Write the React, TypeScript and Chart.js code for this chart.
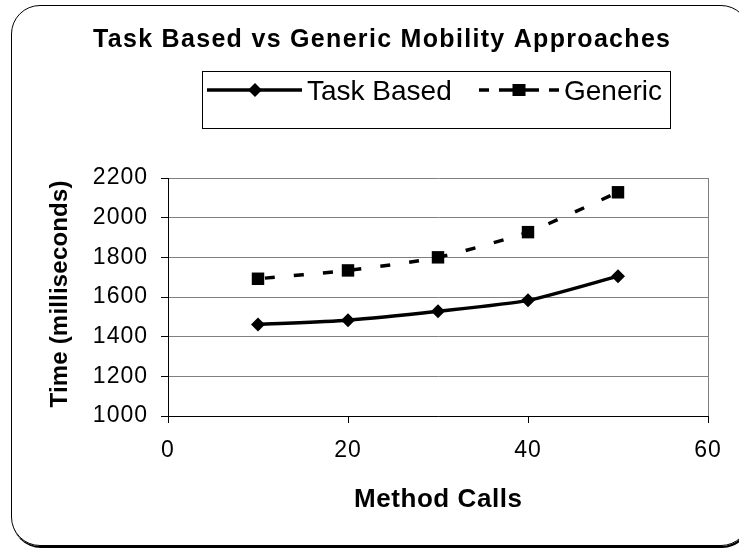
import React, { useEffect, useRef } from "react";
import { Chart, registerables } from "chart.js";

Chart.register(...registerables);

const chartTitle = "Task Based vs Generic Mobility Approaches";
const xTitle = "Method Calls";
const yTitle = "Time (milliseconds)";
const seriesNames = ["Task Based", "Generic"];
const methodCalls = [10, 20, 30, 40, 50];
const taskBased = [1461, 1483, 1528, 1583, 1705];
const generic = [1692, 1734, 1800, 1927, 2128];
const xTicks = [0, 20, 40, 60];
const yTicks = [1000, 1200, 1400, 1600, 1800, 2000, 2200];

const FONT = "'Liberation Sans', Arial, sans-serif";

function drawFitted(
  ctx: CanvasRenderingContext2D,
  text: string,
  cx: number,
  baseline: number,
  font: string,
  target: number
) {
  ctx.save();
  ctx.font = font;
  (ctx as any).letterSpacing = "0px";
  const w = ctx.measureText(text).width;
  const sp = text.length > 1 ? (target - w) / (text.length - 1) : 0;
  (ctx as any).letterSpacing = sp + "px";
  ctx.textAlign = "left";
  ctx.textBaseline = "alphabetic";
  ctx.fillStyle = "#000";
  ctx.fillText(text, cx - target / 2, baseline);
  ctx.restore();
}

function drawLeft(
  ctx: CanvasRenderingContext2D,
  text: string,
  x: number,
  baseline: number,
  font: string
) {
  ctx.save();
  ctx.font = font;
  (ctx as any).letterSpacing = "0px";
  ctx.textAlign = "left";
  ctx.textBaseline = "alphabetic";
  ctx.fillStyle = "#000";
  ctx.fillText(text, x, baseline);
  ctx.restore();
}

function drawDiamond(ctx: CanvasRenderingContext2D, x: number, y: number, r: number) {
  ctx.beginPath();
  ctx.moveTo(x - r, y);
  ctx.lineTo(x, y - r);
  ctx.lineTo(x + r, y);
  ctx.lineTo(x, y + r);
  ctx.closePath();
  ctx.fill();
}

function seg(ctx: CanvasRenderingContext2D, x1: number, x2: number, y: number) {
  ctx.beginPath();
  ctx.moveTo(x1, y);
  ctx.lineTo(x2, y);
  ctx.stroke();
}

const tickSpacingPlugin = {
  id: "tickSpacing",
  beforeDraw(chart: any) {
    (chart.ctx as any).letterSpacing = "1px";
  },
  afterDraw(chart: any) {
    (chart.ctx as any).letterSpacing = "0px";
  },
};

const decorPlugin = {
  id: "decor",
  afterDraw(chart: any) {
    const ctx: CanvasRenderingContext2D = chart.ctx;
    (ctx as any).letterSpacing = "0px";
    const area = chart.chartArea;
    // Title
    drawFitted(ctx, chartTitle, 381.5, 47, `bold 25px ${FONT}`, 577);
    // Legend box
    ctx.save();
    ctx.strokeStyle = "#000";
    ctx.fillStyle = "#000";
    ctx.lineWidth = 1;
    ctx.strokeRect(202.5, 71.5, 468, 57);
    const ly = 90;
    ctx.lineWidth = 3.5;
    ctx.lineCap = "butt";
    // Task Based sample
    seg(ctx, 207, 302, ly);
    drawDiamond(ctx, 255, ly, 7);
    // Generic sample
    const c = 519;
    seg(ctx, c - 40, c - 30, ly);
    seg(ctx, c - 20, c + 20, ly);
    seg(ctx, c + 30, c + 40, ly);
    ctx.fillRect(c - 6.5, ly - 6, 13, 12);
    ctx.restore();
    drawLeft(ctx, seriesNames[0], 307, 100, `28px ${FONT}`);
    drawLeft(ctx, seriesNames[1], 564, 100, `28px ${FONT}`);
    // Axis titles
    drawFitted(ctx, xTitle, (area.left + area.right) / 2, 507, `bold 26px ${FONT}`, 168);
    ctx.save();
    ctx.translate(66.5, 294);
    ctx.rotate(-Math.PI / 2);
    drawFitted(ctx, yTitle, 0, 0, `bold 24px ${FONT}`, 227);
    ctx.restore();
  },
};

export default function App() {
  const canvasRef = useRef<HTMLCanvasElement | null>(null);

  useEffect(() => {
    if (!canvasRef.current) return;
    const chart = new Chart(canvasRef.current, {
      type: "line",
      data: {
        datasets: [
          {
            label: seriesNames[0],
            data: methodCalls.map((x, i) => ({ x, y: taskBased[i] })),
            borderColor: "#000",
            backgroundColor: "#000",
            borderWidth: 3.5,
            pointStyle: "rectRot",
            pointRadius: 7,
            pointBorderWidth: 0,
            tension: 0.2,
          },
          {
            label: seriesNames[1],
            data: methodCalls.map((x, i) => ({ x, y: generic[i] })),
            borderColor: "#000",
            backgroundColor: "#000",
            borderWidth: 3.5,
            borderDash: [10, 19],
            borderDashOffset: 22,
            pointStyle: "rect",
            pointRadius: 8.8,
            pointBorderWidth: 0,
            tension: 0.2,
          },
        ],
      },
      options: {
        responsive: false,
        animation: false,
        devicePixelRatio: 1,
        layout: { padding: { left: 0, right: 31, top: 178, bottom: 0 } },
        plugins: {
          legend: { display: false },
          title: { display: false },
          tooltip: { enabled: false },
        },
        scales: {
          x: {
            type: "linear",
            min: xTicks[0],
            max: xTicks[xTicks.length - 1],
            afterBuildTicks: (scale: any) => {
              scale.ticks = xTicks.map((v) => ({ value: v }));
            },
            afterFit: (scale: any) => {
              scale.height = 132;
            },
            ticks: {
              color: "#000",
              font: { family: FONT, size: 23 },
              padding: 14,
              maxRotation: 0,
              callback: (v: any) => String(v),
            },
            grid: {
              color: (c: any) =>
                c.tick && c.tick.value === xTicks[xTicks.length - 1] ? "#808080" : "rgba(0,0,0,0)",
              tickColor: "#000",
              tickLength: 7,
              lineWidth: 1,
            },
            border: { display: true, color: "#000", width: 1 },
          },
          y: {
            type: "linear",
            min: yTicks[0],
            max: yTicks[yTicks.length - 1],
            afterBuildTicks: (scale: any) => {
              scale.ticks = yTicks.map((v) => ({ value: v }));
            },
            afterFit: (scale: any) => {
              scale.width = 168;
            },
            ticks: {
              color: "#000",
              font: { family: FONT, size: 23 },
              padding: 13,
              callback: (v: any) => String(v),
            },
            grid: {
              color: "#808080",
              tickColor: "#000",
              tickLength: 7,
              lineWidth: 1,
            },
            border: { display: true, color: "#000", width: 1 },
          },
        },
      },
      plugins: [tickSpacingPlugin, decorPlugin],
    });
    return () => chart.destroy();
  }, []);

  return (
    <div
      style={{
        position: "absolute",
        left: 0,
        top: 0,
        width: 739,
        height: 548,
        overflow: "hidden",
        background: "#fff",
      }}
    >
      <div
        style={{
          position: "absolute",
          left: 11,
          top: 5,
          width: 739,
          height: 541,
          border: "1px solid #000",
          borderRadius: 29,
          boxShadow: "1px 2px 0 #000",
          boxSizing: "border-box",
        }}
      />
      <canvas
        ref={canvasRef}
        width={739}
        height={548}
        style={{ position: "absolute", left: 0, top: 0 }}
      />
    </div>
  );
}
